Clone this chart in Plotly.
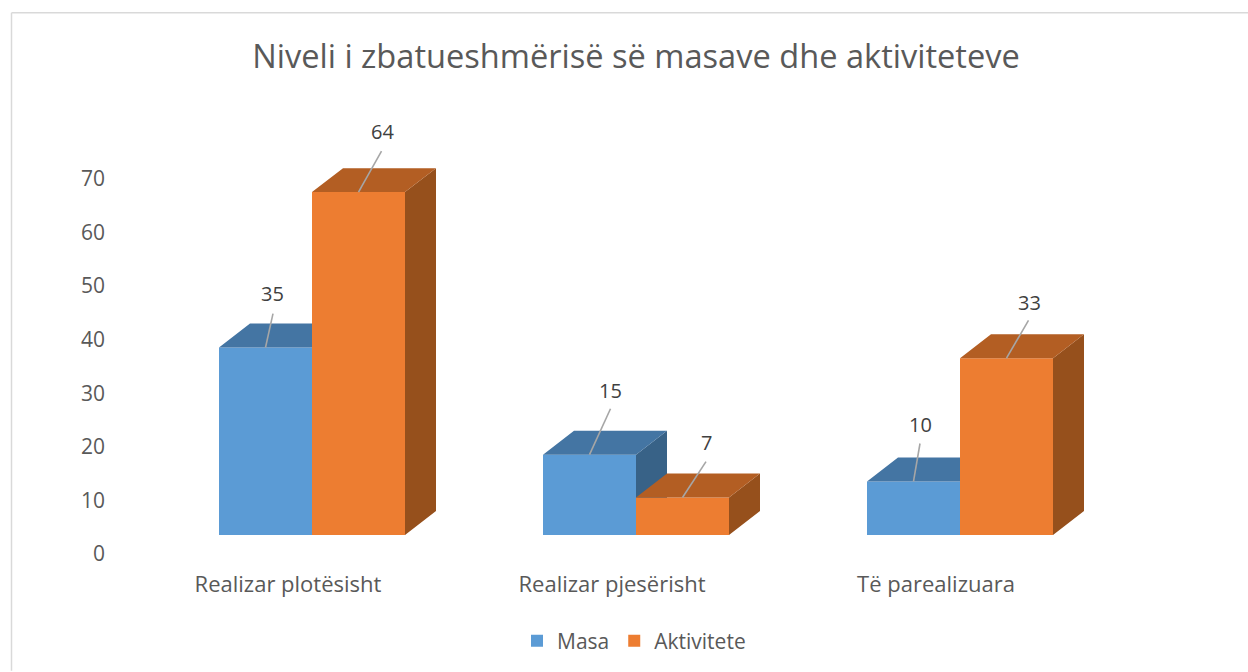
import plotly.graph_objects as go

# ---- data ----
categories = ["Realizar plotësisht", "Realizar pjesërisht", "Të parealizuara"]
masa = [35, 15, 10]
aktivitete = [64, 7, 33]
y_ticks = [0, 10, 20, 30, 40, 50, 60, 70]
title = "Niveli i zbatueshmërisë së masave dhe aktiviteteve"

# ---- layout constants (pixels) ----
W, H = 1248, 672
PX_X = 324.0       # pixels per category
PX_Y = 5.37        # pixels per value unit
L, R, T, B = 112, 1190, 106, 536   # plot box
X0 = 312           # pixel of category 0
BAR = 93 / PX_X
DX = 31 / PX_X     # depth offset
DY = 24 / PX_Y
FONT = "Open Sans"
x_range = [(L - X0) / PX_X, (R - X0) / PX_X]
y_range = [0, (B - T) / PX_Y]


def px(x):
    return (x - L) / (R - L)


def py(y):
    return (B - y) / (B - T)


# leader end offsets from the top-centre of each bar (pixels)
leader_masa = [(7.5, 34), (21, 46), (6.5, 38)]
leader_akt = [(23, 41), (23.5, 36), (22, 38)]
label_masa = [(7, 53.5), (21, 64.5), (7, 56.5)]
label_akt = [(23.5, 60.5), (23.5, 55.5), (23, 55.5)]


def faces(vals, x_off):
    top_x, top_y, side_x, side_y = [], [], [], []
    for i, v in enumerate(vals):
        a, b = i + x_off - BAR / 2, i + x_off + BAR / 2
        top_x += [a, b, b + DX, a + DX, a, None]
        top_y += [v, v, v + DY, v + DY, v, None]
        side_x += [b, b + DX, b + DX, b, b, None]
        side_y += [0, DY, v + DY, v, 0, None]
    return top_x, top_y, side_x, side_y


def series(name, vals, x_off, color, top_c, side_c, xa, ya, leader):
    xs = [i + x_off for i in range(len(vals))]
    tx, ty, sx, sy = faces(vals, x_off)
    lx, ly = [], []
    for x, v, (dx, dy) in zip(xs, vals, leader):
        lx += [x, x + dx / PX_X, None]
        ly += [v, v + dy / PX_Y, None]
    return [
        go.Bar(name=name, x=xs, y=vals, width=BAR, marker=dict(color=color, line_width=0),
               xaxis=xa, yaxis=ya, hoverinfo="y"),
        go.Scatter(x=sx, y=sy, fill="toself", fillcolor=side_c, mode="lines", line=dict(width=0),
                   showlegend=False, hoverinfo="skip", xaxis=xa, yaxis=ya),
        go.Scatter(x=tx, y=ty, fill="toself", fillcolor=top_c, mode="lines", line=dict(width=0),
                   showlegend=False, hoverinfo="skip", xaxis=xa, yaxis=ya),
        go.Scatter(x=lx, y=ly, mode="lines", line=dict(color="#A6A6A6", width=1.6),
                   showlegend=False, hoverinfo="skip", xaxis=xa, yaxis=ya),
    ]


fig = go.Figure()
off = BAR / 2
for t in series("Masa", masa, -off, "#5B9BD5", "#4475A3", "#386287", "x", "y", leader_masa):
    fig.add_trace(t)
for t in series("Aktivitete", aktivitete, off, "#ED7D31", "#B35E23", "#96501C", "x2", "y2", leader_akt):
    fig.add_trace(t)

annotations = []
for vals, x_off, shifts in ((masa, -off, label_masa), (aktivitete, off, label_akt)):
    for i, (v, (sx, sy)) in enumerate(zip(vals, shifts)):
        annotations.append(dict(x=i + x_off, y=v, xref="x", yref="y", text=str(v), showarrow=False,
                                xshift=sx, yshift=sy, font=dict(family=FONT, size=20, color="#404040")))

fig.update_layout(
    width=W, height=H, autosize=False,
    margin=dict(l=L, r=W - R, t=T, b=H - B),
    paper_bgcolor="white", plot_bgcolor="white",
    barmode="overlay",
    title=dict(text=title, x=636 / W, xanchor="center", y=1 - 57 / H, yanchor="middle",
               font=dict(family=FONT, size=32.6, color="#595959")),
    xaxis=dict(range=x_range, tickvals=[0, 1, 2], ticktext=categories, showgrid=False, zeroline=False,
               showline=False, ticks="", ticklabelshift=-24, ticklabelstandoff=34,
               tickfont=dict(family=FONT, size=22, color="#595959")),
    yaxis=dict(range=y_range, tickvals=y_ticks, showgrid=False, zeroline=False, showline=False,
               ticks="", ticklabelshift=19, ticklabelstandoff=6,
               tickfont=dict(family=FONT, size=21, color="#595959")),
    xaxis2=dict(range=x_range, overlaying="x", visible=False),
    yaxis2=dict(range=y_range, overlaying="y", visible=False),
    legend=dict(orientation="h", x=px(517), xanchor="left", y=py(641), yanchor="middle",
                font=dict(family=FONT, size=21, color="#595959"), bgcolor="rgba(0,0,0,0)"),
    annotations=annotations,
    shapes=[
        dict(type="line", xref="paper", yref="paper", x0=px(11.5), x1=px(W), y0=py(12.5), y1=py(12.5),
             line=dict(color="#D9D9D9", width=1.5)),
        dict(type="line", xref="paper", yref="paper", x0=px(11.5), x1=px(11.5), y0=py(H), y1=py(12.5),
             line=dict(color="#D9D9D9", width=1.5)),
    ],
)

fig.write_html("out.html", config={"displayModeBar": False},
               post_script="document.body.style.margin='0';document.body.style.overflow='hidden';")
